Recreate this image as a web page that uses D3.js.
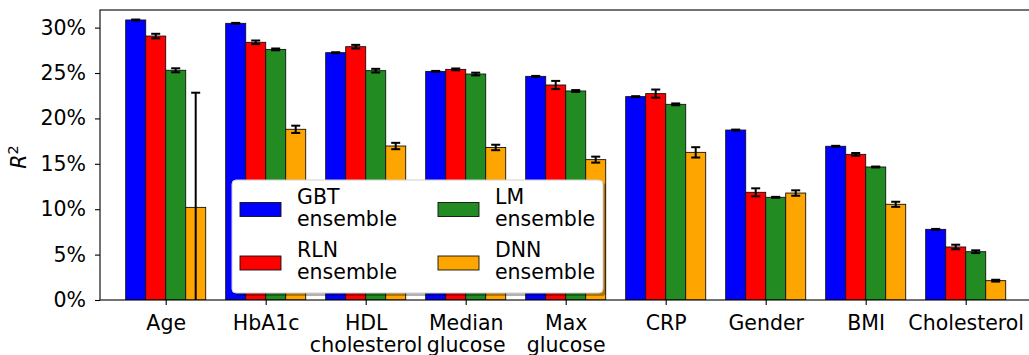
<!DOCTYPE html>
<html>
<head>
<meta charset="utf-8">
<script src="https://cdn.jsdelivr.net/npm/d3@7"></script>
<style>
  html, body { margin: 0; padding: 0; background: #fff; }
  svg { display: block; font-family: "DejaVu Sans", sans-serif; }
</style>
</head>
<body>
<svg id="chart" width="1029" height="355"></svg>
<script>
// ---- data (values in %) ----
const categories = ["Age", "HbA1c", "HDL\ncholesterol", "Median\nglucose", "Max\nglucose", "CRP", "Gender", "BMI", "Cholesterol"];
const seriesNames = ["GBT\nensemble", "RLN\nensemble", "LM\nensemble", "DNN\nensemble"];
const seriesColors = ["#0000ff", "#ff0000", "#228b22", "#ffa500"];
const gbt    = [30.84, 30.47, 27.24, 25.18, 24.63, 22.40, 18.72, 16.93, 7.78];
const rln    = [29.07, 28.38, 27.90, 25.40, 23.68, 22.73, 11.86, 16.04, 5.84];
const lm     = [25.30, 27.60, 25.26, 24.89, 23.02, 21.55, 11.31, 14.65, 5.32];
const dnn    = [10.20, 18.80, 16.96, 16.80, 15.46, 16.26, 11.78, 10.54, 2.13];
const gbtErr = [0.05, 0.05, 0.05, 0.05, 0.05, 0.05, 0.05, 0.05, 0.05];
const rlnErr = [0.25, 0.20, 0.20, 0.10, 0.45, 0.45, 0.44, 0.15, 0.25];
const lmErr  = [0.22, 0.10, 0.20, 0.15, 0.10, 0.10, 0.05, 0.05, 0.15];
const dnnErr = [12.63, 0.40, 0.35, 0.30, 0.33, 0.57, 0.30, 0.28, 0.10];
const yTicks = [0, 5, 10, 15, 20, 25, 30];

const values = [gbt, rln, lm, dnn];
const errs = [gbtErr, rlnErr, lmErr, dnnErr];

// ---- layout ----
const plot = { left: 100, right: 1031, top: 10, bottom: 300 };
const svg = d3.select("#chart");
const fontSize = 20.5;

const x = d3.scalePoint().domain(categories).range([165.7, 965.7]);
const xs = d3.scaleBand().domain(d3.range(4)).range([-40, 40]);
const y = d3.scaleLinear().domain([0, 31.94]).range([plot.bottom, plot.top]);

svg.append("defs").append("clipPath").attr("id", "clip")
  .append("rect").attr("x", plot.left).attr("y", plot.top)
  .attr("width", plot.right - plot.left).attr("height", plot.bottom - plot.top);

const gPlot = svg.append("g").attr("clip-path", "url(#clip)");

const rows = [];
categories.forEach((c, i) => {
  values.forEach((vals, s) => {
    rows.push({ cat: c, s: s, v: vals[i], e: errs[s][i] });
  });
});

// bars
gPlot.selectAll("rect.bar").data(rows).join("rect")
  .attr("class", "bar")
  .attr("x", d => x(d.cat) + xs(d.s))
  .attr("width", xs.bandwidth())
  .attr("y", d => y(d.v))
  .attr("height", d => y(0) - y(d.v))
  .attr("fill", d => seriesColors[d.s])
  .attr("stroke", "#111")
  .attr("stroke-width", 0.9);

// error bars
const capHalf = 4.5;
const eg = gPlot.selectAll("g.err").data(rows).join("g").attr("class", "err")
  .attr("stroke", "#000").attr("stroke-width", 2);
eg.append("line")
  .attr("x1", d => x(d.cat) + xs(d.s) + xs.bandwidth() / 2)
  .attr("x2", d => x(d.cat) + xs(d.s) + xs.bandwidth() / 2)
  .attr("y1", d => y(d.v - d.e)).attr("y2", d => y(d.v + d.e));
eg.append("line")
  .attr("x1", d => x(d.cat) + xs(d.s) + xs.bandwidth() / 2 - capHalf)
  .attr("x2", d => x(d.cat) + xs(d.s) + xs.bandwidth() / 2 + capHalf)
  .attr("y1", d => y(d.v + d.e)).attr("y2", d => y(d.v + d.e));
eg.append("line")
  .attr("x1", d => x(d.cat) + xs(d.s) + xs.bandwidth() / 2 - capHalf)
  .attr("x2", d => x(d.cat) + xs(d.s) + xs.bandwidth() / 2 + capHalf)
  .attr("y1", d => y(d.v - d.e)).attr("y2", d => y(d.v - d.e));

// spines
svg.append("rect")
  .attr("x", plot.left).attr("y", plot.top)
  .attr("width", plot.right - plot.left).attr("height", plot.bottom - plot.top)
  .attr("fill", "none").attr("stroke", "#000").attr("stroke-width", 1.1);

// y axis
const yAxis = d3.axisLeft(y).tickValues(yTicks).tickFormat(d => d + "%")
  .tickSize(5).tickPadding(9);
const gy = svg.append("g").attr("transform", `translate(${plot.left},0)`).call(yAxis);
gy.select(".domain").remove();
gy.selectAll(".tick line").attr("stroke", "#000").attr("stroke-width", 1.1);
gy.selectAll(".tick text").attr("fill", "#000")
  .style("font-family", "DejaVu Sans").style("font-size", fontSize + "px");

// x axis
const xAxis = d3.axisBottom(x).tickSize(5).tickFormat("");
const gx = svg.append("g").attr("transform", `translate(0,${plot.bottom})`).call(xAxis);
gx.select(".domain").remove();
gx.selectAll(".tick line").attr("stroke", "#000").attr("stroke-width", 1.1);
gx.selectAll(".tick text").remove();
gx.selectAll(".tick").append("text")
  .attr("text-anchor", "middle")
  .attr("fill", "#000")
  .style("font-family", "DejaVu Sans").style("font-size", fontSize + "px")
  .each(function(d) {
    const lines = d.split("\n");
    const t = d3.select(this);
    lines.forEach((ln, k) => {
      t.append("tspan").attr("x", 0).attr("y", 30 + k * 22).text(ln);
    });
  });

// y label
const yl = svg.append("text")
  .attr("transform", "translate(26,157) rotate(-90)")
  .attr("text-anchor", "middle")
  .attr("fill", "#000")
  .style("font-family", "DejaVu Sans").style("font-size", fontSize + "px");
yl.append("tspan").style("font-style", "italic").text("R");
yl.append("tspan").attr("dy", -8).style("font-size", (fontSize * 0.7) + "px").text("2");

// legend
const leg = { x: 232, y: 180, w: 371, h: 113 };
const lg = svg.append("g");
lg.append("rect")
  .attr("x", leg.x + 3).attr("y", leg.y + 3).attr("width", leg.w).attr("height", leg.h)
  .attr("rx", 4).attr("fill", "#000").attr("opacity", 0.3);
lg.append("rect")
  .attr("x", leg.x).attr("y", leg.y).attr("width", leg.w).attr("height", leg.h)
  .attr("rx", 4).attr("fill", "#fff").attr("stroke", "#d0d0d0").attr("stroke-width", 1);

const colX = [240, 438];
const rowY = [202.5, 256];
seriesNames.forEach((name, s) => {
  const col = Math.floor(s / 2), row = s % 2;
  const px = colX[col], py = rowY[row];
  lg.append("rect").attr("x", px).attr("y", py).attr("width", 41).attr("height", 14)
    .attr("fill", seriesColors[s]).attr("stroke", "#111").attr("stroke-width", 0.9);
  const t = lg.append("text").attr("fill", "#000")
    .style("font-family", "DejaVu Sans").style("font-size", fontSize + "px");
  name.split("\n").forEach((ln, k) => {
    t.append("tspan").attr("x", px + 57).attr("y", py + 1 + k * 22).text(ln);
  });
});
</script>
</body>
</html>
